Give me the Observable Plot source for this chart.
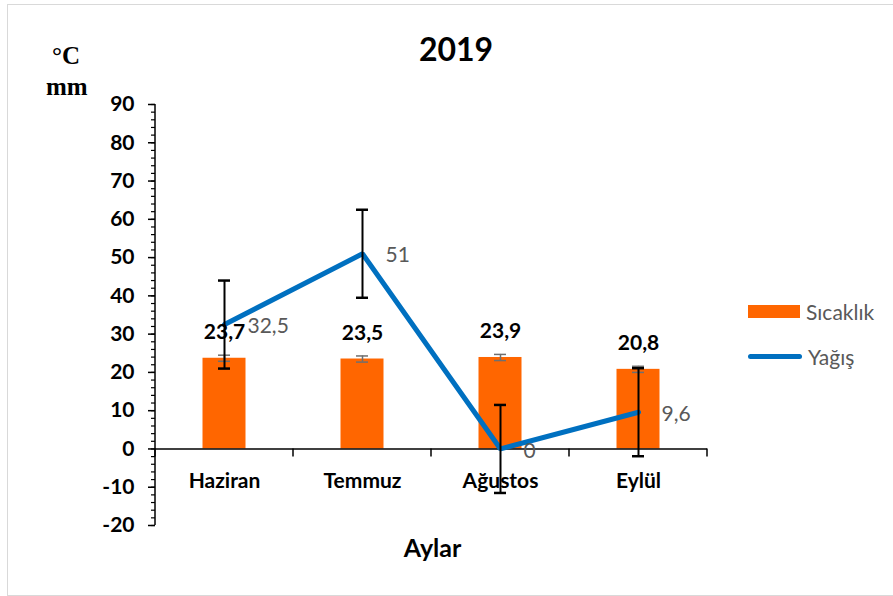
<!DOCTYPE html>
<html>
<head>
<meta charset="utf-8">
<script src="https://cdn.jsdelivr.net/npm/d3@7"></script>
<script src="https://cdn.jsdelivr.net/npm/@observablehq/plot@0.6"></script>
<style>
  html, body { margin: 0; padding: 0; background: #fff; }
  #wrap { position: relative; width: 893px; height: 596px; overflow: hidden; font-family: Lato, "Open Sans", sans-serif; }
  #wrap svg { position: absolute; left: 0; top: 0; }
  .abs { position: absolute; white-space: nowrap; }
  #border { position: absolute; left: 7px; top: 4px; width: 900px; height: 592px; border: 1px solid #d9d9d9; box-sizing: border-box; }
  #title { left: 0; width: 912px; top: 29px; text-align: center; font-weight: bold; font-size: 32px; color: #000; }
  .unit { font-family: "Liberation Serif", "Times New Roman", serif; font-weight: bold; font-size: 25px; color: #000; }
  #xtitle { left: 0; width: 865px; top: 532px; text-align: center; font-weight: bold; font-size: 25px; color: #000; }
  .leg { display: flex; align-items: center; font-size: 21px; color: #595959; }
</style>
</head>
<body>
<div id="wrap">
  <div id="border"></div>
</div>
<script>
// ---- data ----
const months = ["Haziran", "Temmuz", "Ağustos", "Eylül"];
const temperature = [23.7, 23.5, 23.9, 20.8];
const temperatureError = [0.8, 0.8, 0.8, 0.8];
const precipitation = [32.5, 51, 0, 9.6];
const precipitationError = [11.5, 11.5, 11.5, 11.5];
const yMajorTicks = [-20, -10, 0, 10, 20, 30, 40, 50, 60, 70, 80, 90];
const yMinorTicks = d3.range(-20, 91, 2);
const seriesNames = ["Sıcaklık", "Yağış"];
const titleText = "2019";
const unitLines = ["°C", "mm"];
const xTitle = "Aylar";

const ORANGE = "#FF6600";
const BLUE = "#0070C0";
const fmt = v => String(v).replace(".", ",");

const rows = months.map((m, i) => ({
  month: m,
  temp: temperature[i],
  tErr: temperatureError[i],
  rain: precipitation[i],
  rErr: precipitationError[i]
}));

// y axis line (left edge of frame)
function yAxisLine(index, scales, values, dimensions) {
  const g = d3.create("svg:g");
  const x0 = dimensions.marginLeft;
  g.append("line").attr("x1", x0).attr("x2", x0)
    .attr("y1", scales.y(-20)).attr("y2", scales.y(90))
    .attr("stroke", "#000").attr("stroke-width", 1.5);
  return g.node();
}
// category boundary ticks hanging below the zero line
function xBoundaryTicks(index, scales, values, dimensions) {
  const g = d3.create("svg:g");
  const y0 = scales.y(0);
  const bw = scales.x.bandwidth ? scales.x.bandwidth() : 0;
  const edges = months.map(m => scales.x(m));
  edges.push(scales.x(months[months.length - 1]) + bw);
  for (const e of edges) {
    g.append("line").attr("x1", e).attr("x2", e)
      .attr("y1", y0).attr("y2", y0 + 8)
      .attr("stroke", "#000").attr("stroke-width", 1.5);
  }
  return g.node();
}

const chart = Plot.plot({
  width: 893,
  height: 596,
  marginLeft: 155,
  marginRight: 186,
  marginTop: 104,
  marginBottom: 71,
  style: { fontFamily: "Lato, 'Open Sans', sans-serif", fontSize: "21px", color: "#000", background: "transparent" },
  x: { type: "band", domain: months, paddingInner: 0, paddingOuter: 0, axis: null },
  y: { domain: [-20, 90], axis: null },
  marks: [
    Plot.axisY({ ticks: yMinorTicks, tickSize: 4, tickFormat: () => "", strokeWidth: 1.2 }),
    Plot.axisY({ ticks: yMajorTicks, tickSize: 7, tickPadding: 14, tickFormat: d => String(d), fontWeight: "bold", fontSize: 21, strokeWidth: 1.5 }),
    Plot.barY(rows, { x: "month", y: "temp", fill: ORANGE, insetLeft: 47.5, insetRight: 47.5 }),
    Plot.ruleY([0], { stroke: "#000", strokeWidth: 1.5 }),
    yAxisLine,
    xBoundaryTicks,
    // temperature error bars
    Plot.ruleX(rows, { x: "month", y1: d => d.temp - d.tErr, y2: d => d.temp + d.tErr, stroke: "#6f6f6f", strokeWidth: 1.5 }),
    Plot.tickY(rows, { x: "month", y: d => d.temp - d.tErr, stroke: "#6f6f6f", strokeWidth: 1.5, insetLeft: 63, insetRight: 63 }),
    Plot.tickY(rows, { x: "month", y: d => d.temp + d.tErr, stroke: "#6f6f6f", strokeWidth: 1.5, insetLeft: 63, insetRight: 63 }),
    // precipitation line
    Plot.lineY(rows, { x: "month", y: "rain", stroke: BLUE, strokeWidth: 5, strokeLinecap: "round", strokeLinejoin: "miter" }),
    // precipitation error bars
    Plot.ruleX(rows, { x: "month", y1: d => d.rain - d.rErr, y2: d => d.rain + d.rErr, stroke: "#000", strokeWidth: 2 }),
    Plot.tickY(rows, { x: "month", y: d => d.rain - d.rErr, stroke: "#000", strokeWidth: 2.5, insetLeft: 63, insetRight: 63 }),
    Plot.tickY(rows, { x: "month", y: d => d.rain + d.rErr, stroke: "#000", strokeWidth: 2.5, insetLeft: 63, insetRight: 63 }),
    // labels
    Plot.text(rows, { x: "month", y: "temp", text: d => fmt(d.temp), dy: -26, fontWeight: "bold", fontSize: 21, fill: "#000" }),
    Plot.text(rows, { x: "month", y: "rain", text: d => fmt(d.rain), dx: 23, dy: 2, textAnchor: "start", fontSize: 21, fill: "#595959" }),
    // category labels
    Plot.text(months, { x: d => d, y: () => 0, text: d => d, dy: 32, fontWeight: "bold", fontSize: 21, fill: "#000" })
  ]
});

const wrap = document.getElementById("wrap");
wrap.appendChild(chart);

function addDiv(cls, id, text, css) {
  const d = document.createElement("div");
  d.className = "abs " + (cls || "");
  if (id) d.id = id;
  d.textContent = text;
  Object.assign(d.style, css || {});
  wrap.appendChild(d);
  return d;
}
addDiv("", "title", titleText);
addDiv("unit", null, unitLines[0], { left: "52px", top: "42px" });
addDiv("unit", null, unitLines[1], { left: "46px", top: "73px" });
addDiv("", "xtitle", xTitle);

// legend
const legendTops = [298, 343];
seriesNames.forEach((name, i) => {
  const row = document.createElement("div");
  row.className = "abs leg";
  Object.assign(row.style, { left: "748px", top: legendTops[i] + "px", height: "26px" });
  const sw = document.createElement("div");
  if (i === 0) {
    Object.assign(sw.style, { width: "52px", height: "13px", background: ORANGE });
  } else {
    Object.assign(sw.style, { width: "54px", height: "5px", background: BLUE, borderRadius: "3px" });
  }
  const lab = document.createElement("span");
  lab.textContent = name;
  lab.style.marginLeft = "6px";
  row.appendChild(sw);
  row.appendChild(lab);
  wrap.appendChild(row);
});
</script>
</body>
</html>
